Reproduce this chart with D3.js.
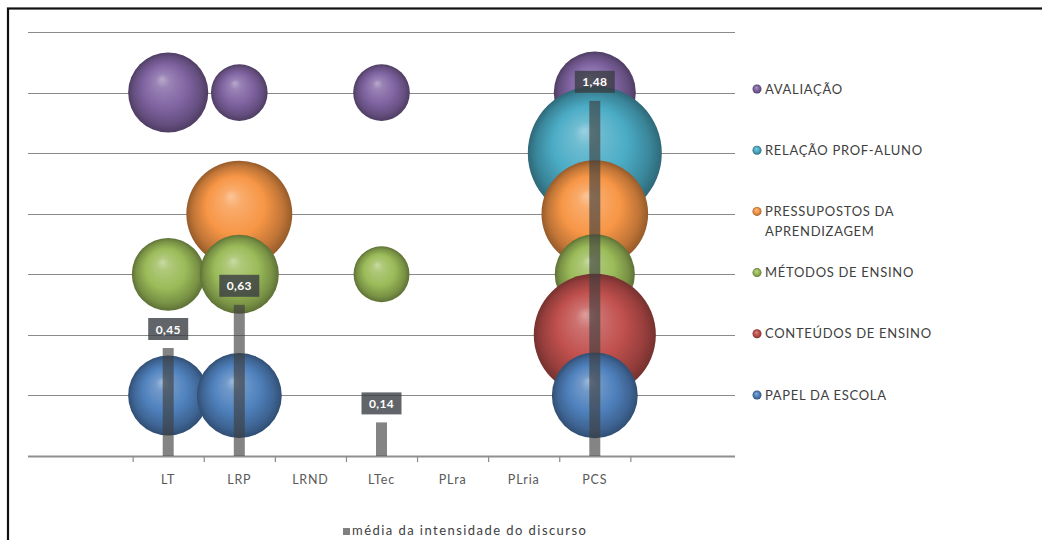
<!DOCTYPE html>
<html>
<head>
<meta charset="utf-8">
<script src="https://cdn.jsdelivr.net/npm/d3@7"></script>
<style>
  html, body { margin: 0; padding: 0; background: #ffffff; }
  svg { display: block; font-family: Lato, "Open Sans", "DejaVu Sans", sans-serif; }
</style>
</head>
<body>
<svg id="chart" width="1042" height="540"></svg>
<script>
// Categories on the horizontal axis
const categories = ["LT", "LRP", "LRND", "LTec", "PLra", "PLria", "PCS"];

// Themes (bubble rows), listed from top to bottom
const themes = ["AVALIAÇÃO", "RELAÇÃO PROF-ALUNO", "PRESSUPOSTOS DA APRENDIZAGEM",
                "MÉTODOS DE ENSINO", "CONTEÚDOS DE ENSINO", "PAPEL DA ESCOLA"];
const themeLevels = [6, 5, 4, 3, 2, 1];
const themeColors = ["#8064A2", "#4BACC6", "#F79646", "#9BBB59", "#C0504D", "#4F81BD"];

// Bubble sizes per theme and category (null = no bubble)
const avaliacao    = [4.0, 2.0, null, 2.0, null, null, 4.2];
const relacaoProf  = [null, null, null, null, null, null, 11.2];
const pressupostos = [null, 7.0, null, null, null, null, 7.1];
const metodos      = [3.3, 3.9, null, 1.95, null, null, 4.0];
const conteudos    = [null, null, null, null, null, null, 9.3];
const papelEscola  = [4.0, 4.5, null, null, null, null, 4.6];
const bubbleSeries = [avaliacao, relacaoProf, pressupostos, metodos, conteudos, papelEscola];

// Average discourse intensity per category (bars)
const mediaIntensidade = [0.45, 0.63, 0, 0.14, 0, 0, 1.48];
const barSeriesName = "média da intensidade do discurso";

const svg = d3.select("#chart");

// Plot geometry
const plot = { left: 28, right: 735, top: 32, bottom: 456 };

const x = d3.scaleLinear().domain([-2, 8]).range([26, 737]);
const y = d3.scaleLinear().domain([0, 7]).range([plot.bottom, plot.top]);
const yBar = d3.scaleLinear().domain([0, 1.75]).range([plot.bottom, plot.bottom - 420]);
const rSize = d3.scaleSqrt().domain([0, 11.2]).range([0, 67]);

const ptBR = d3.formatLocale({ decimal: ",", thousands: ".", grouping: [3], currency: ["R$", ""] });
const fmt = ptBR.format(".2f");

// Outer frame
svg.append("rect")
  .attr("x", 8).attr("y", 8.5)
  .attr("width", 1100).attr("height", 600)
  .attr("fill", "#ffffff")
  .attr("stroke", "#111111").attr("stroke-width", 2.2);

// Sphere-like radial gradients
const defs = svg.append("defs");
themeColors.forEach((c, i) => {
  const base = d3.color(c);
  const g = defs.append("radialGradient")
    .attr("id", "sphere" + i)
    .attr("cx", "50%").attr("cy", "50%").attr("r", "50%")
    .attr("fx", "42%").attr("fy", "33%");
  const stops = [
    [0, d3.interpolateRgb(base, "#ffffff")(0.45)],
    [0.18, d3.interpolateRgb(base, "#ffffff")(0.2)],
    [0.55, base.formatHex()],
    [0.85, base.darker(0.7).formatHex()],
    [1, base.darker(1.4).formatHex()]
  ];
  stops.forEach(([o, col]) => g.append("stop").attr("offset", o).attr("stop-color", col));
});

// Horizontal gridlines
const gridLevels = d3.range(1, 8);
svg.append("g").selectAll("line")
  .data(gridLevels)
  .join("line")
  .attr("x1", plot.left).attr("x2", plot.right)
  .attr("y1", d => Math.round(y(d)) + 0.5).attr("y2", d => Math.round(y(d)) + 0.5)
  .attr("stroke", "#8a8a8a").attr("stroke-width", 1.2);

// Category axis
const tickPositions = d3.range(-0.5, categories.length, 1);
const xAxis = d3.axisBottom(x)
  .tickValues(tickPositions)
  .tickSize(6)
  .tickFormat("");
const axisG = svg.append("g")
  .attr("transform", `translate(0,${plot.bottom})`)
  .call(xAxis);
axisG.select(".domain").remove();
axisG.selectAll(".tick line").attr("stroke", "#8a8a8a").attr("stroke-width", 1.2);
svg.append("line")
  .attr("x1", plot.left).attr("x2", plot.right)
  .attr("y1", plot.bottom + 0.5).attr("y2", plot.bottom + 0.5)
  .attr("stroke", "#8f8f8f").attr("stroke-width", 2);

svg.append("g").selectAll("text")
  .data(categories)
  .join("text")
  .attr("x", (d, i) => x(i))
  .attr("y", 484)
  .attr("text-anchor", "middle")
  .attr("font-size", 12.5)
  .attr("letter-spacing", 0.8)
  .attr("fill", "#595959")
  .text(d => d);

// Bubbles: first theme at the back, last theme in front
bubbleSeries.forEach((values, s) => {
  svg.append("g").selectAll("circle")
    .data(values.map((v, i) => ({ v, i })).filter(d => d.v != null))
    .join("circle")
    .attr("cx", d => x(d.i))
    .attr("cy", y(themeLevels[s]))
    .attr("r", d => rSize(d.v))
    .attr("fill", `url(#sphere${s})`);
});

// Bars for the average intensity
const barW = 11;
const bars = mediaIntensidade.map((v, i) => ({ v, i })).filter(d => d.v > 0);
svg.append("g").selectAll("rect")
  .data(bars)
  .join("rect")
  .attr("x", d => x(d.i) - barW / 2)
  .attr("y", d => yBar(d.v))
  .attr("width", barW)
  .attr("height", d => yBar(0) - yBar(d.v))
  .attr("fill", "#3f3f3f").attr("fill-opacity", 0.64);

// Value labels above the bars
const labelG = svg.append("g").selectAll("g")
  .data(bars)
  .join("g")
  .attr("transform", d => `translate(${x(d.i)},${yBar(d.v) - 8})`);
labelG.append("rect")
  .attr("x", -20).attr("y", -22)
  .attr("width", 40).attr("height", 22)
  .attr("fill", "#3a3d44").attr("fill-opacity", 0.8);
labelG.append("text")
  .attr("x", 0).attr("y", -6.5)
  .attr("text-anchor", "middle")
  .attr("font-size", 12).attr("font-weight", "bold")
  .attr("letter-spacing", 0.3)
  .attr("fill", "#ffffff")
  .text(d => fmt(d.v));

// Legend for the themes
const legendLines = [["AVALIAÇÃO"], ["RELAÇÃO PROF-ALUNO"], ["PRESSUPOSTOS DA", "APRENDIZAGEM"],
                     ["MÉTODOS DE ENSINO"], ["CONTEÚDOS DE ENSINO"], ["PAPEL DA ESCOLA"]];
const legend = svg.append("g").selectAll("g")
  .data(themes)
  .join("g")
  .attr("transform", (d, i) => `translate(757,${89 + i * 61.2})`);
legend.append("circle")
  .attr("r", 4.5)
  .attr("fill", (d, i) => `url(#sphere${i})`);
legend.append("text")
  .attr("x", 8).attr("y", 4.5)
  .attr("font-size", 13)
  .attr("letter-spacing", 0.7)
  .attr("fill", "#404040")
  .selectAll("tspan")
  .data((d, i) => legendLines[i])
  .join("tspan")
  .attr("x", 8)
  .attr("dy", (d, j) => j === 0 ? 0 : 20)
  .text(d => d);

// Legend for the bar series
const barLegend = svg.append("g").attr("transform", "translate(343,528)");
barLegend.append("rect")
  .attr("width", 7).attr("height", 7)
  .attr("fill", "#808080");
barLegend.append("text")
  .attr("x", 9).attr("y", 7)
  .attr("font-size", 13)
  .attr("letter-spacing", 1.45)
  .attr("fill", "#404040")
  .text(barSeriesName);
</script>
</body>
</html>
